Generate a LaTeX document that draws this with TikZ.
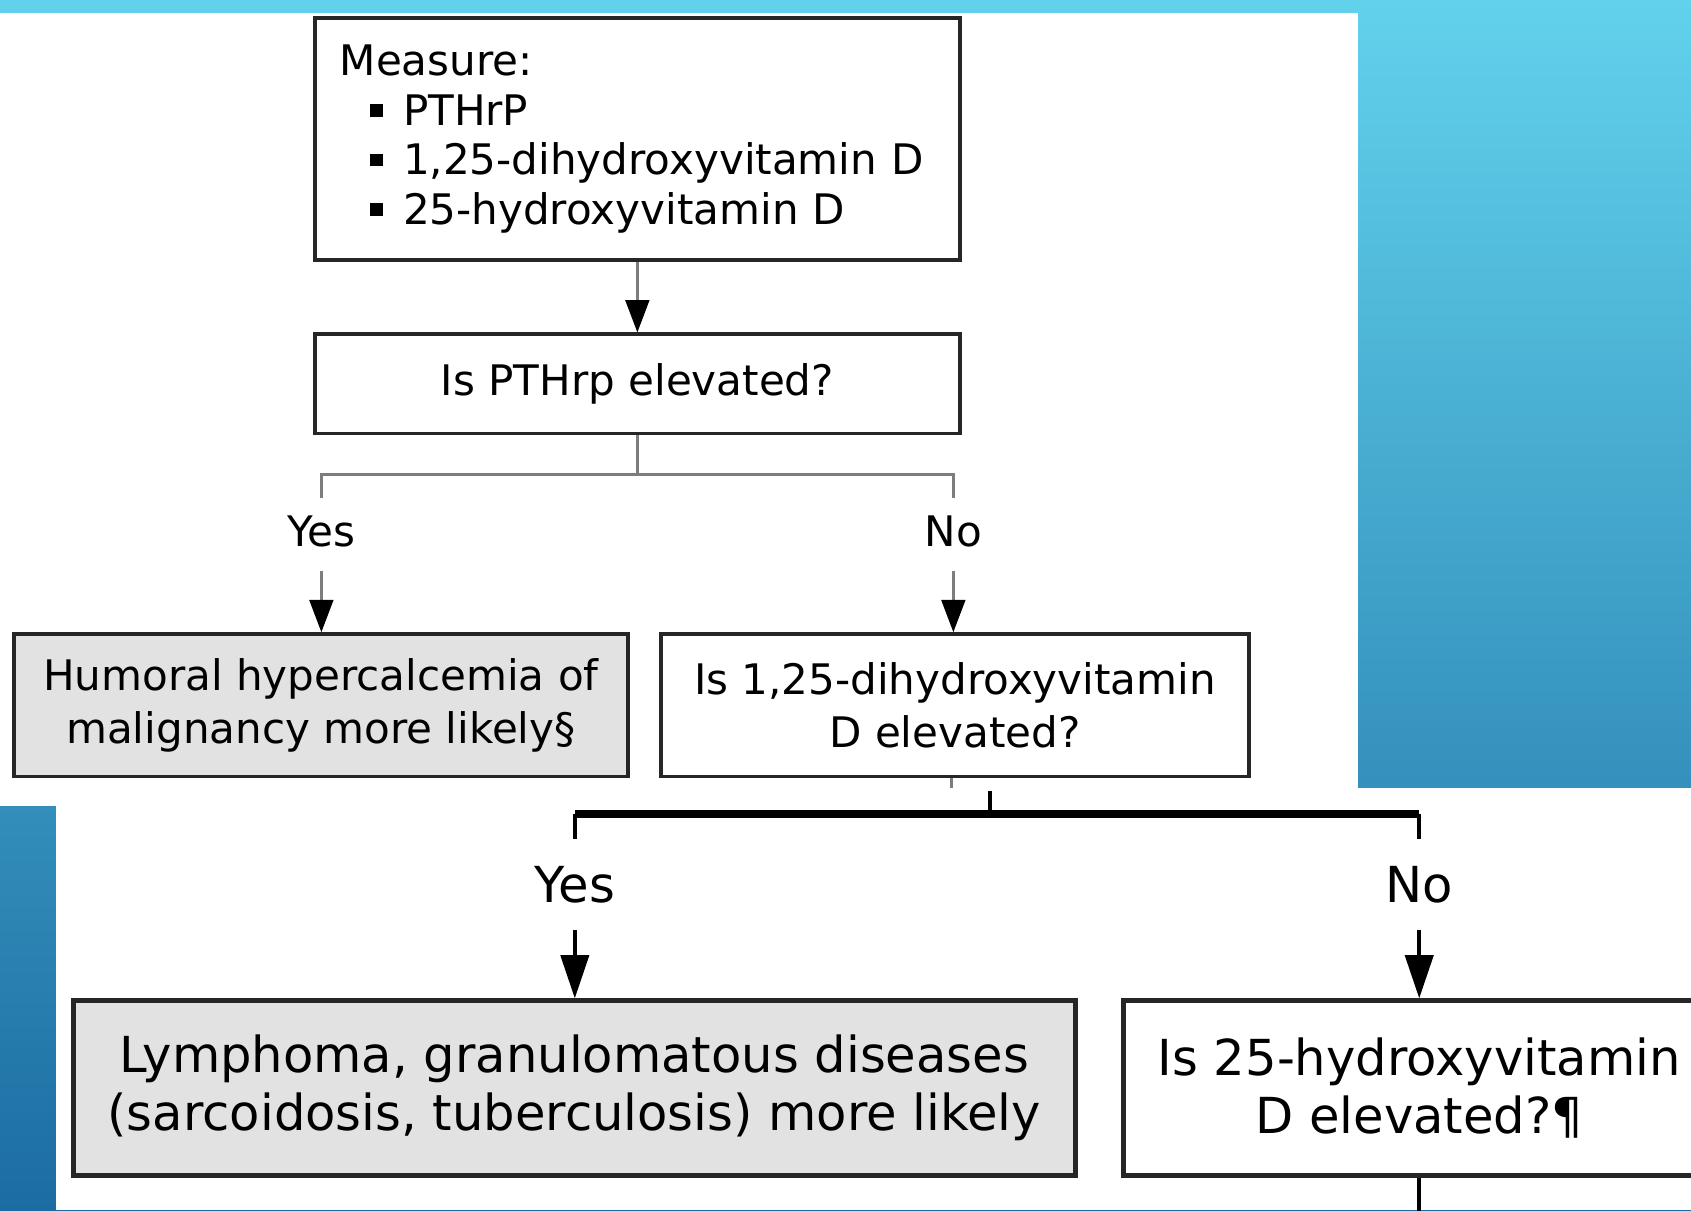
\documentclass[tikz,border=0pt]{standalone}
\usepackage{fontspec}
\setmainfont{DejaVu Sans}
\usetikzlibrary{arrows.meta}

\definecolor{bgtop}{RGB}{98,210,236}
\definecolor{bgmid}{RGB}{60,163,206}
\definecolor{bgbot}{RGB}{27,108,162}
\definecolor{boxgray}{RGB}{226,226,226}
\definecolor{linegray}{RGB}{125,125,125}

\newcommand{\sqbul}{\rule[0.2em]{0.3em}{0.3em}}

\tikzset{
  flowbox/.style={rectangle, draw=black!85, line width=3.5pt, align=center, inner sep=0pt},
  greybox/.style={flowbox, fill=boxgray},
  smallfont/.style={font=\fontsize{39}{49}\selectfont},
  bigfont/.style={font=\fontsize{46}{54}\selectfont},
  branchlab/.style={inner sep=0pt},
  conn/.style={draw=linegray, line width=2.5pt},
  connb/.style={draw=black, line width=3.5pt},
  tipa/.style={-{Triangle[length=30pt,width=22pt,black]}},
  tipb/.style={-{Triangle[length=40pt,width=26pt]}}
}

\begin{document}
\begin{tikzpicture}[x=1pt,y=-1pt]

  \useasboundingbox (0,0) rectangle (1568,1122);
  \clip (0,0) rectangle (1568,1122);

  % background and the two white panels
  \shade[top color=bgtop, middle color=bgmid, bottom color=bgbot] (0,0) rectangle (1568,1122);
  \fill[white] (0,12) rectangle (1259,747);
  \fill[white] (52,731) rectangle (1568,1122);

  % upper part
  \begin{scope}[every node/.style={smallfont}]
    \node[flowbox, minimum width=598, minimum height=224, align=left, text width=552,
          font=\fontsize{39}{46}\selectfont] (measure) at (591,129)
      {Measure:\\
       \hspace*{28pt}\sqbul\hspace{19pt}PTHrP\\
       \hspace*{28pt}\sqbul\hspace{19pt}1,25-dihydroxyvitamin D\\
       \hspace*{28pt}\sqbul\hspace{19pt}25-hydroxyvitamin D};
    \node[flowbox, minimum width=598, minimum height=92] (pthrp) at (591,356) {Is PTHrp elevated?};
    \node[branchlab] (yes1) at (298,493) {Yes};
    \node[branchlab] (no1)  at (884,493) {No};
    \node[greybox, minimum width=569, minimum height=132] (humoral) at (297.5,654)
      {Humoral hypercalcemia of\\malignancy more likely§};
    \node[flowbox, minimum width=545, minimum height=132] (calcitriol) at (885.5,654)
      {Is 1,25-dihydroxyvitamin\\D elevated?};
  \end{scope}

  % lower part
  \begin{scope}[every node/.style={bigfont}]
    \node[branchlab] (yes2) at (533,820) {Yes};
    \node[branchlab] (no2)  at (1316,820) {No};
    \node[greybox, line width=4.5pt, minimum width=929, minimum height=162] (lymphoma) at (532.5,1009)
      {Lymphoma, granulomatous diseases\\(sarcoidosis, tuberculosis) more likely};
    \node[flowbox, line width=4.5pt, minimum width=548, minimum height=162] (vitd) at (1316,1009)
      {Is 25-hydroxyvitamin\\D elevated?¶};
  \end{scope}

  \coordinate (split1) at (591,440);
  \coordinate (lt1) at (298,462);
  \coordinate (rt1) at (884,462);
  \coordinate (stub) at (882,731);
  \coordinate (top2) at (918,733);
  \coordinate (split2) at (918,755);
  \coordinate (lt2) at (533,778);
  \coordinate (rt2) at (1316,778);
  \coordinate (cont) at (1316,1130);

  \draw[conn, tipa] (measure) -- (pthrp);
  \draw[conn] (pthrp) -- (split1);
  \draw[conn] (lt1) -- (lt1 |- split1) -- (rt1 |- split1) -- (rt1);
  \draw[conn, tipa, shorten <=22pt] (yes1) -- (yes1 |- humoral.north);
  \draw[conn, tipa, shorten <=22pt] (no1) -- (no1 |- calcitriol.north);

  \draw[conn] (calcitriol.south -| stub) -- (stub);
  \draw[connb] (top2) -- (split2);
  \draw[connb, line width=4pt] (lt2 |- split2) -- (lt2);
  \draw[connb, line width=4pt] (rt2 |- split2) -- (rt2);
  \draw[connb, line width=7pt] (lt2 |- split2) -- (rt2 |- split2);
  \draw[connb, tipb, shorten <=25pt] (yes2) -- (yes2 |- lymphoma.north);
  \draw[connb, tipb, shorten <=25pt] (no2) -- (no2 |- vitd.north);
  \draw[connb] (vitd) -- (cont);

\end{tikzpicture}
\end{document}
